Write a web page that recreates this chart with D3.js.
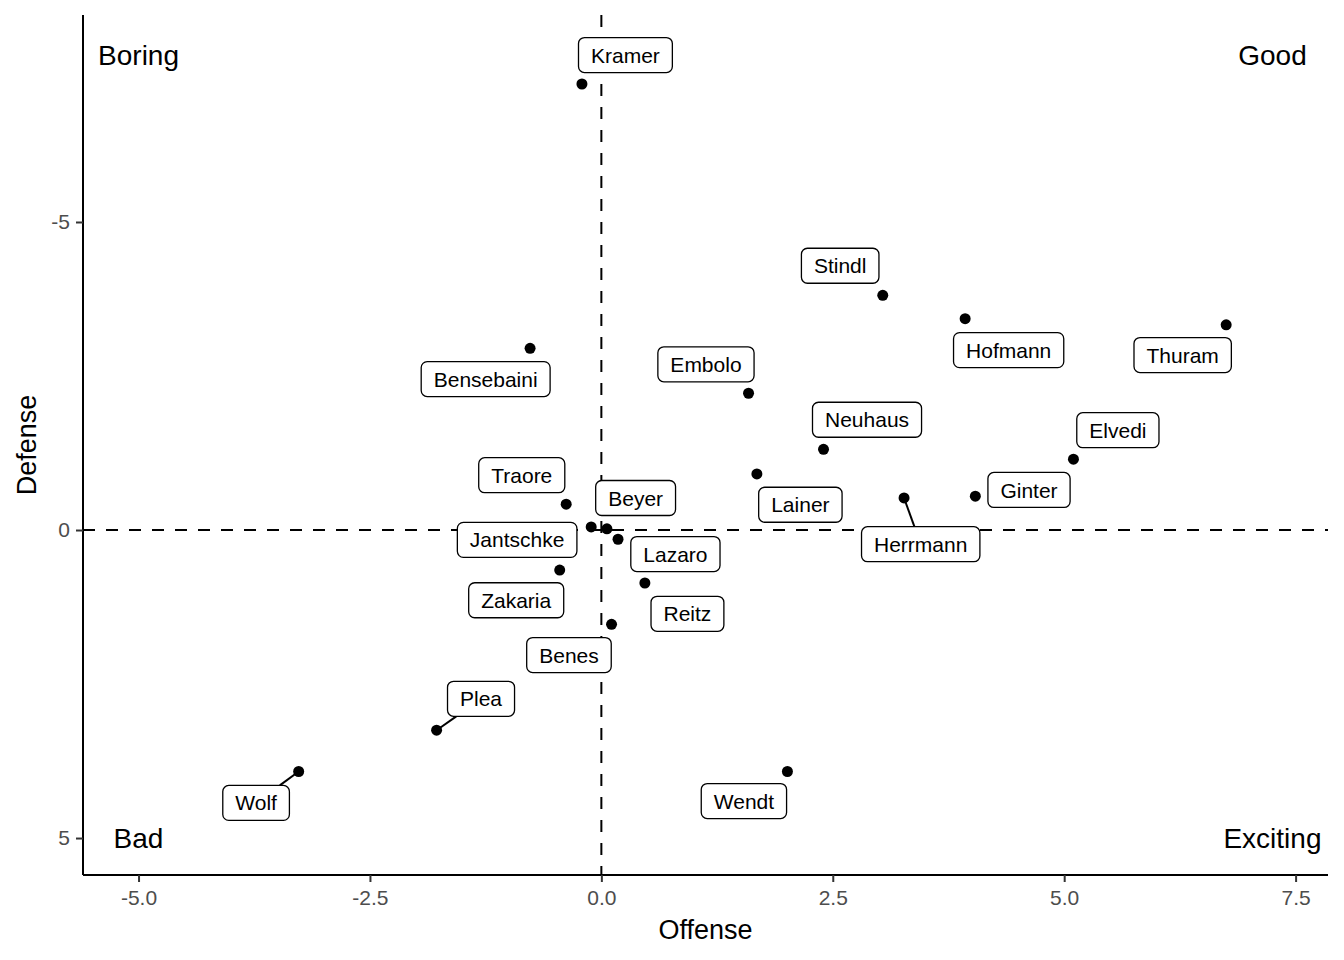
<!DOCTYPE html>
<html>
<head>
<meta charset="utf-8">
<script src="https://cdn.jsdelivr.net/npm/d3@7"></script>
<style>
    body { margin: 0; background: #fff; }
    svg { font-family: "Liberation Sans", Arial, sans-serif; }
</style>
</head>
<body>
<svg id="chart" width="1344" height="960"></svg>
<script>
/* =====
   DATA
==== */

const players = ["Kramer", "Stindl", "Hofmann", "Thuram", "Bensebaini", "Embolo", "Neuhaus",
    "Elvedi", "Lainer", "Herrmann", "Ginter", "Traore", "Jantschke", "Beyer", "Lazaro",
    "Zakaria", "Reitz", "Benes", "Plea", "Wolf", "Wendt"];

const offense = [-0.21, 3.04, 3.93, 6.75, -0.77, 1.59, 2.40,
    5.10, 1.68, 3.27, 4.04, -0.38, -0.11, 0.06, 0.18,
    -0.45, 0.47, 0.11, -1.78, -3.27, 2.01];

const defense = [-7.24, -3.81, -3.43, -3.33, -2.95, -2.22, -1.31,
    -1.15, -0.91, -0.52, -0.55, -0.42, -0.05, -0.02, 0.15,
    0.65, 0.86, 1.53, 3.25, 3.92, 3.92];

// where the label repel ended up (data units)
const repelOffense = [0.26, 2.58, 4.40, 6.28, -1.25, 1.13, 2.87,
    5.58, 2.15, 3.45, 4.62, -0.86, -0.91, 0.37, 0.80,
    -0.92, 0.93, -0.35, -1.30, -3.73, 1.54];

const repelDefense = [-7.71, -4.29, -2.92, -2.84, -2.45, -2.69, -1.79,
    -1.62, -0.41, 0.23, -0.65, -0.89, 0.16, -0.52, 0.39,
    1.14, 1.36, 2.03, 2.74, 4.43, 4.40];

const corners = ["Boring", "Good", "Bad", "Exciting"];
const cornerOffense = [-5, 7.25, -5, 7.25];
const cornerDefense = [-7.72, -7.72, 5, 5];

const xTicks = [-5, -2.5, 0, 2.5, 5, 7.5];
const yTicks = [-5, 0, 5];


/* =====
   SETUP
==== */

const svg = d3.select("#chart");
const panel = { left: 83, right: 1328, top: 15, bottom: 875 };

const x = d3.scaleLinear().domain([-5.6, 7.85]).range([panel.left, panel.right]);
// defense is reversed: negative (good) at the top
const y = d3.scaleLinear().domain([-8.36, 5.6]).range([panel.top, panel.bottom]);

// ascii hyphen for negatives, like R
const fmtX = d => d3.format(".1f")(d).replace("\u2212", "-");
const fmtY = d => d3.format("d")(d).replace("\u2212", "-");

// reference lines at zero
svg.append("line")
    .attr("x1", x(0)).attr("x2", x(0))
    .attr("y1", panel.top).attr("y2", panel.bottom)
    .attr("stroke", "#000").attr("stroke-width", 2)
    .attr("stroke-dasharray", "12,11");

svg.append("line")
    .attr("x1", panel.left).attr("x2", panel.right)
    .attr("y1", y(0)).attr("y2", y(0))
    .attr("stroke", "#000").attr("stroke-width", 2)
    .attr("stroke-dasharray", "12,11");


/* =====
   AXES
==== */

const xAxis = svg.append("g")
    .attr("transform", `translate(0,${panel.bottom})`)
    .call(d3.axisBottom(x).tickValues(xTicks).tickFormat(fmtX).tickSizeOuter(0).tickSize(7).tickPadding(8));

const yAxis = svg.append("g")
    .attr("transform", `translate(${panel.left},0)`)
    .call(d3.axisLeft(y).tickValues(yTicks).tickFormat(fmtY).tickSizeOuter(0).tickSize(7).tickPadding(6));

[xAxis, yAxis].forEach(a => {
    a.select(".domain").attr("stroke", "#000").attr("stroke-width", 2);
    a.selectAll(".tick line").attr("stroke", "#333").attr("stroke-width", 2);
    a.selectAll(".tick text")
        .attr("fill", "#4d4d4d")
        .style("font-size", "21px")
        .style("font-family", "Liberation Sans, Arial, sans-serif");
});

// axis lines meet at the panel corner
xAxis.select(".domain").attr("d", `M${panel.left},0H${panel.right}`);
yAxis.select(".domain").attr("d", `M0,${panel.top}V${panel.bottom}`);

svg.append("text")
    .attr("x", (panel.left + panel.right) / 2)
    .attr("y", 939)
    .attr("text-anchor", "middle")
    .style("font-size", "27px")
    .text("Offense");

svg.append("text")
    .attr("transform", `translate(36,${(panel.top + panel.bottom) / 2}) rotate(-90)`)
    .attr("text-anchor", "middle")
    .style("font-size", "27px")
    .text("Defense");


/* =====
   CORNER ANNOTATIONS
==== */

svg.selectAll(".corner")
    .data(corners)
    .enter()
    .append("text")
    .attr("class", "corner")
    .attr("x", (d, i) => x(cornerOffense[i]))
    .attr("y", (d, i) => y(cornerDefense[i]))
    .attr("dy", "0.36em")
    .attr("text-anchor", "middle")
    .style("font-size", "28px")
    .text(d => d);


/* =====
   POINTS + LABELS
==== */

const rows = players.map((name, i) => ({
    name,
    px: x(offense[i]), py: y(defense[i]),
    lx: x(repelOffense[i]), ly: y(repelDefense[i])
}));

const segLayer = svg.append("g");
const pointLayer = svg.append("g");
const labelLayer = svg.append("g");

const labels = labelLayer.selectAll("g")
    .data(rows)
    .enter()
    .append("g")
    .attr("transform", d => `translate(${d.lx},${d.ly})`);

labels.append("rect").attr("fill", "#fff").attr("stroke", "#000")
    .attr("stroke-width", 1.3).attr("rx", 6);

labels.append("text")
    .attr("text-anchor", "middle")
    .attr("dy", "0.36em")
    .style("font-size", "21px")
    .text(d => d.name);

labels.each(function (d) {
    const w = d3.select(this).select("text").node().getComputedTextLength() + 25;
    const h = 35;
    d.w = w; d.h = h;
    d3.select(this).select("rect")
        .attr("x", -w / 2).attr("y", -h / 2)
        .attr("width", w).attr("height", h);
});

// segment toward label centre, only when the box sits clearly away from its point
rows.forEach(d => {
    const dx = d.lx - d.px, dy = d.ly - d.py;
    const hw = d.w / 2, hh = d.h / 2;
    const nx = Math.max(Math.abs(dx) - hw, 0), ny = Math.max(Math.abs(dy) - hh, 0);
    if (Math.hypot(nx, ny) < 16) return;
    const tt = Math.max(
        Math.abs(dx) > hw ? (Math.abs(dx) - hw) / Math.abs(dx) : 0,
        Math.abs(dy) > hh ? (Math.abs(dy) - hh) / Math.abs(dy) : 0
    );
    segLayer.append("line")
        .attr("x1", d.px).attr("y1", d.py)
        .attr("x2", d.px + dx * tt).attr("y2", d.py + dy * tt)
        .attr("stroke", "#000").attr("stroke-width", 2);
});

pointLayer.selectAll("circle")
    .data(rows)
    .enter()
    .append("circle")
    .attr("cx", d => d.px)
    .attr("cy", d => d.py)
    .attr("r", 5.5)
    .attr("fill", "#000");
</script>
</body>
</html>
